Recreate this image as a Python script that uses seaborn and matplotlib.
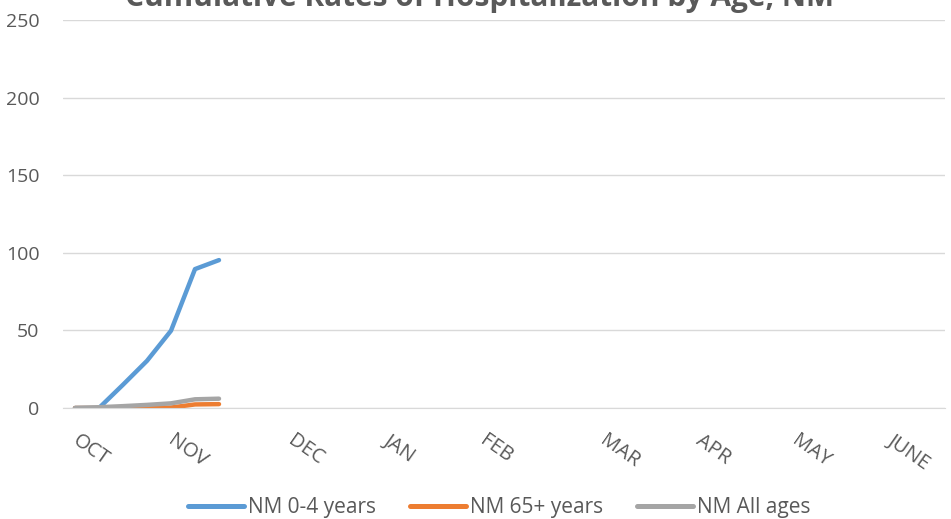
import matplotlib
matplotlib.use("Agg")
import matplotlib.pyplot as plt
import matplotlib.transforms as mtransforms
import seaborn as sns
import pandas as pd
from matplotlib.lines import Line2D

# weekly categories, Oct -> June, only first 7 weeks have data
weeks = list(range(7))
rate_0_4 = [0, 0, 15, 30.4, 49.8, 89.5, 95.3]
rate_65 = [0, 0, 0, 0, 0.3, 2.3, 2.5]
rate_all = [0, 0.5, 1.2, 2.0, 3.0, 5.6, 6.0]

month_pos = [0, 4, 9, 13, 17, 22, 26, 30, 34]
month_labels = ["OCT", "NOV", "DEC", "JAN", "FEB", "MAR", "APR", "MAY", "JUNE"]

series_names = ["NM 0-4 years", "NM 65+ years", "NM All ages"]
colors = ["#5B9BD5", "#ED7D31", "#A5A5A5"]

df = pd.concat([
    pd.DataFrame({"week": weeks, "rate": rate_0_4, "series": series_names[0]}),
    pd.DataFrame({"week": weeks, "rate": rate_65, "series": series_names[1]}),
    pd.DataFrame({"week": weeks, "rate": rate_all, "series": series_names[2]}),
])

sns.set_style("white")
plt.rcParams["font.family"] = ["Open Sans", "DejaVu Sans"]

fig = plt.figure(figsize=(9.51, 5.19), dpi=100)
ax = fig.add_axes([63 / 951, 1 - 408 / 519, 882 / 951, 388 / 519])

sns.lineplot(data=df, x="week", y="rate", hue="series", palette=colors,
             linewidth=3.2, legend=False, ax=ax, solid_capstyle="round")

ax.set_xlim(-0.5, 36.25)
ax.set_ylim(0, 250)
ax.set_yticks(range(0, 251, 50))
ax.yaxis.grid(True, color="#D9D9D9", linewidth=1)
ax.set_axisbelow(True)
for s in ["top", "right", "left"]:
    ax.spines[s].set_visible(False)
ax.spines["bottom"].set_color("#D9D9D9")
ax.tick_params(axis="y", length=0, labelsize=14, labelcolor="#595959", pad=17)
ax.set_xticks(month_pos)
ax.tick_params(axis="x", length=0, labelcolor="#595959", pad=16)
ax.set_xticklabels(month_labels, rotation=-35, ha="left", va="top",
                   rotation_mode="anchor", fontsize=14.5, color="#595959")
# nudge month labels a bit right, like the original
shift = mtransforms.ScaledTranslation(5 / 100, 0, fig.dpi_scale_trans)
for lbl in ax.get_xticklabels():
    lbl.set_transform(lbl.get_transform() + shift)
ax.set_xlabel("")
ax.set_ylabel("")

fig.text(0.504, 1 - 6 / 519, "Cumulative Rates of Hospitalization by Age, NM",
         ha="center", va="baseline", fontsize=21.5, fontweight="bold", color="#595959")

handles = [Line2D([], [], color=c, linewidth=3.6, solid_capstyle="round") for c in colors]
fig.legend(handles, series_names, loc="center", bbox_to_anchor=(0.525, 1 - 508 / 519),
           ncol=3, frameon=False, fontsize=15, labelcolor="#595959",
           handlelength=2.7, handletextpad=0.2, columnspacing=1.6)

fig.savefig("out.png", dpi=100)
